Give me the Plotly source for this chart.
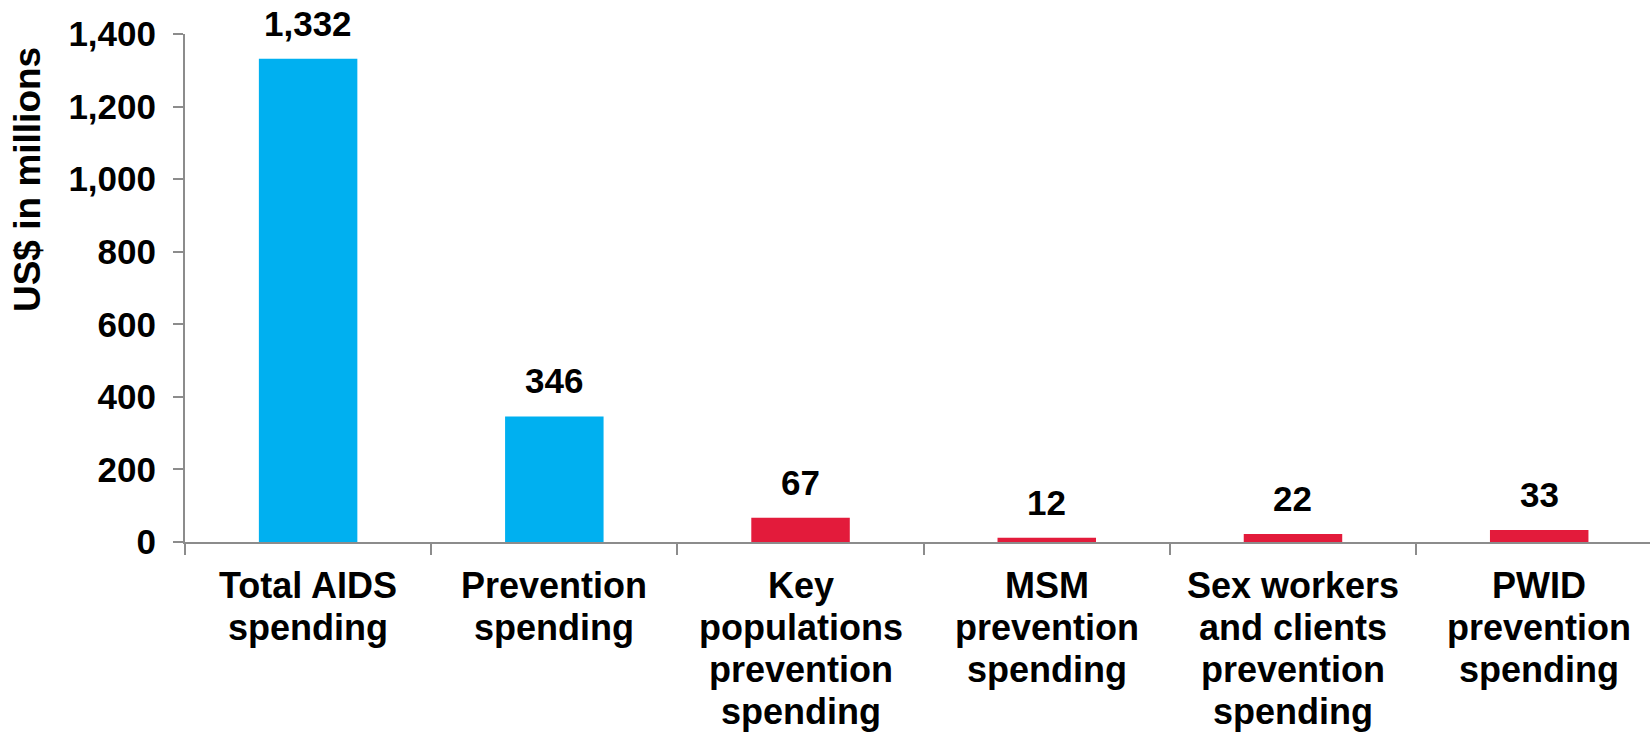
import plotly.graph_objects as go

# Spending categories (x axis) and values in US$ millions
categories = [
    "Total AIDS spending",
    "Prevention spending",
    "Key populations prevention spending",
    "MSM prevention spending",
    "Sex workers and clients prevention spending",
    "PWID prevention spending",
]
category_lines = [
    ["Total AIDS", "spending"],
    ["Prevention", "spending"],
    ["Key", "populations", "prevention", "spending"],
    ["MSM", "prevention", "spending"],
    ["Sex workers", "and clients", "prevention", "spending"],
    ["PWID", "prevention", "spending"],
]
values = [1332, 346, 67, 12, 22, 33]
value_labels = ["1,332", "346", "67", "12", "22", "33"]
bar_colors = ["#00B0F0", "#00B0F0", "#E31B3B", "#E31B3B", "#E31B3B", "#E31B3B"]
y_ticks = [0, 200, 400, 600, 800, 1000, 1200, 1400]
y_tick_labels = ["0", "200", "400", "600", "800", "1,000", "1,200", "1,400"]

FONT = "Liberation Sans, Arial, sans-serif"
AXIS_GREY = "#8C8C8C"
LABEL_LINE_STEP = 42   # px between baselines of wrapped category labels

fig = go.Figure()
fig.add_trace(go.Bar(
    x=categories,
    y=values,
    marker=dict(color=bar_colors, line=dict(width=0)),
    hoverinfo="skip",
))

# Value labels above each bar
for cat, val, lab in zip(categories, values, value_labels):
    fig.add_annotation(
        x=cat, y=val, xref="x", yref="y",
        text="<b>%s</b>" % lab,
        showarrow=False, yanchor="bottom", yshift=14,
        font=dict(family=FONT, size=35, color="#000000"),
    )

# Wrapped category labels under the axis, one annotation per line
for cat, lines in zip(categories, category_lines):
    for k, line in enumerate(lines):
        fig.add_annotation(
            x=cat, y=0, xref="x", yref="y",
            text="<b>%s</b>" % line,
            showarrow=False, xanchor="center", yanchor="top",
            yshift=-21 - LABEL_LINE_STEP * k,
            font=dict(family=FONT, size=36, color="#000000"),
        )

# Y axis title
fig.add_annotation(
    x=-0.107, y=0.713, xref="paper", yref="paper",
    text="<b>US$ in millions</b>", textangle=-90,
    showarrow=False, xanchor="center", yanchor="middle",
    font=dict(family=FONT, size=37, color="#000000"),
)

fig.update_layout(
    width=1650, height=735,
    margin=dict(l=185, r=0, t=34, b=193, autoexpand=False),
    paper_bgcolor="#FFFFFF", plot_bgcolor="#FFFFFF",
    bargap=0.6,
    showlegend=False,
    font=dict(family=FONT, color="#000000"),
)

fig.update_xaxes(
    range=[-0.5, 5.45],
    tickson="boundaries",
    ticks="outside", ticklen=11, tickwidth=2, tickcolor=AXIS_GREY,
    showline=True, linecolor=AXIS_GREY, linewidth=2,
    showgrid=False, zeroline=False,
    showticklabels=False,
    fixedrange=True,
)

fig.update_yaxes(
    range=[0, 1400],
    tickvals=y_ticks, ticktext=y_tick_labels,
    ticks="outside", ticklen=10, tickwidth=2, tickcolor=AXIS_GREY,
    showline=True, linecolor=AXIS_GREY, linewidth=2,
    showgrid=False, zeroline=False,
    tickfont=dict(family=FONT, size=35, color="#000000", weight="bold"),
    ticklabelstandoff=10,
    fixedrange=True,
)

fig.write_html("out.html", config={"displayModeBar": False})
